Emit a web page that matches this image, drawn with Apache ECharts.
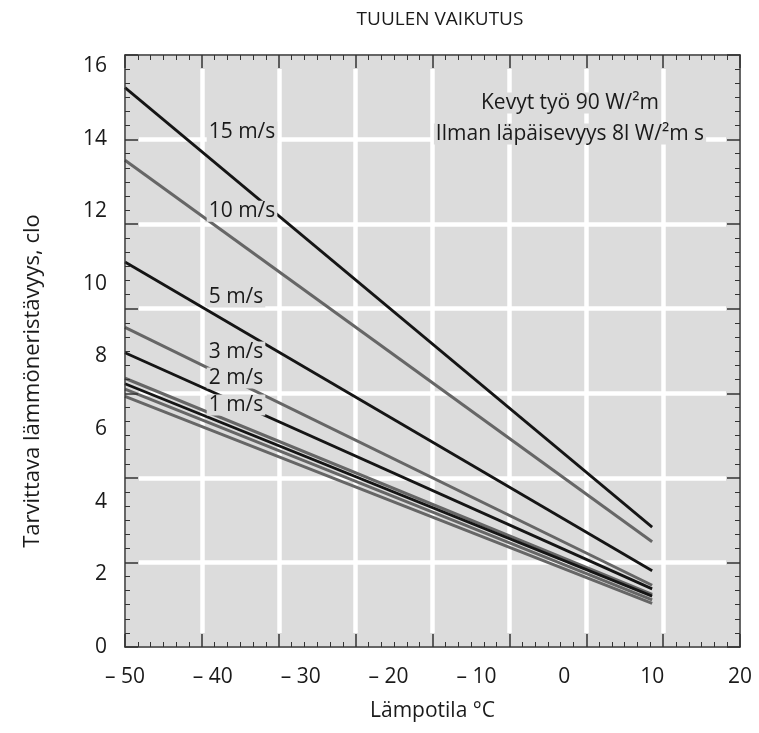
<!DOCTYPE html>
<html>
<head>
<meta charset="utf-8">
<script src="https://cdn.jsdelivr.net/npm/echarts@6/dist/echarts.min.js"></script>
<style>
html,body{margin:0;padding:0;background:#fff;}
#myChart{width:759px;height:733px;}
</style>
</head>
<body>
<div id="myChart"></div>
<script>
// luettu kuvasta: jokainen käyrä on suora -50 °C ... 10 °C
var temps = [-50, 10];
var lineNames = ['15 m/s', '10 m/s', '5 m/s', '3 m/s', '2 m/s', '1 m/s', 'käyrä 7', 'käyrä 8', 'käyrä 9'];
var cloAtStart = [15.4, 13.4, 10.6, 8.8, 8.1, 7.4, 7.25, 7.1, 6.9];
var cloAtEnd = [3.3, 2.9, 2.1, 1.7, 1.6, 1.45, 1.4, 1.3, 1.2];
var xTickLabels = [-50, -40, -30, -20, -10, 0, 10, 20];
var yTickLabels = [0, 2, 4, 6, 8, 10, 12, 14, 16];
var speedLabels = ['15 m/s', '10 m/s', '5 m/s', '3 m/s', '2 m/s', '1 m/s'];

// ulkoasu
var BG = '#dcdcdc';
var L = 125, R = 740, T = 55, B = 647, TICK = 13;
var FONT = 'Open Sans';
var ink = '#1a1a1a';
var dark = '#151515', grey = '#666';
var tones = [dark, grey, dark, grey, dark, grey, dark, grey, grey];
// nopeustekstien paikat (lämpötila, clo)
var labelX = -40.7;
var labelY = [14.18, 12.0, 9.64, 8.12, 7.41, 6.66];

var txt = {fontFamily: FONT, fontSize: 21, color: ink};

var series = lineNames.map(function (n, i) {
    return {
        name: n,
        type: 'line',
        showSymbol: false,
        silent: true,
        z: 3,
        data: temps.map(function (t, k) { return [t, k === 0 ? cloAtStart[i] : cloAtEnd[i]]; }),
        lineStyle: {color: tones[i], width: tones[i] === dark ? 2.8 : 3}
    };
});
series.push({
    type: 'scatter',
    symbolSize: 0,
    silent: true,
    z: 4,
    itemStyle: {opacity: 1},
    emphasis: {disabled: true},
    data: speedLabels.map(function (s, i) { return {name: s, value: [labelX, labelY[i]]}; }),
    label: {
        show: true, position: 'right', distance: 0,
        formatter: function (p) { return p.name; },
        fontFamily: FONT, fontSize: 21, color: ink, opacity: 1,
        backgroundColor: BG, padding: [0, 2]
    }
});

function frameTicks(pos, max) {
    return {
        type: 'value', position: pos, min: 0, max: max, interval: 1, z: 5,
        axisLabel: {show: false},
        axisLine: {show: true, onZero: false, lineStyle: {color: '#333', width: 1.5}},
        axisTick: {show: true, inside: true, length: TICK, lineStyle: {color: '#333', width: 1.5}},
        minorTick: {show: true, splitNumber: 6, length: 5, lineStyle: {color: '#333', width: 1}},
        splitLine: {show: false}
    };
}
function whiteGrid(pos, max) {
    return {
        type: 'value', position: pos, min: 0, max: max, interval: 1, z: 0,
        axisLabel: {show: false}, axisLine: {show: false}, axisTick: {show: false},
        splitLine: {show: true, lineStyle: {color: '#fff', width: 4.5}}
    };
}

var option = {
    animation: false,
    backgroundColor: '#fff',
    grid: {left: L, right: 759 - R, top: T, bottom: 733 - B, show: true, backgroundColor: BG, borderWidth: 0},
    xAxis: [
        {
            type: 'value', position: 'bottom',
            min: xTickLabels[0], max: xTickLabels[xTickLabels.length - 1], interval: 10,
            axisLine: {show: false}, axisTick: {show: false}, splitLine: {show: false},
            axisLabel: Object.assign({margin: 20, formatter: function (v) { return v < 0 ? '– ' + (-v) : '' + v; }}, txt),
            name: 'Lämpotila °C', nameLocation: 'middle', nameGap: 54, nameTextStyle: txt
        },
        whiteGrid('bottom', 8),
        frameTicks('bottom', 8),
        frameTicks('top', 8)
    ],
    yAxis: [
        {
            type: 'value', position: 'left',
            min: yTickLabels[0], max: 16.3, interval: 2,
            axisLine: {show: false}, axisTick: {show: false}, splitLine: {show: false},
            axisLabel: Object.assign({margin: 18}, txt)
        },
        whiteGrid('left', 7),
        frameTicks('left', 7),
        frameTicks('right', 7)
    ],
    graphic: [
        // valkoiset viivat eivät ulotu kehykseen asti
        {type: 'rect', z: 1, silent: true, shape: {x: L + 1, y: T + 1, width: TICK, height: B - T - 2}, style: {fill: BG}},
        {type: 'rect', z: 1, silent: true, shape: {x: R - TICK - 1, y: T + 1, width: TICK, height: B - T - 2}, style: {fill: BG}},
        {type: 'rect', z: 1, silent: true, shape: {x: L + 1, y: T + 1, width: R - L - 2, height: TICK}, style: {fill: BG}},
        {type: 'rect', z: 1, silent: true, shape: {x: L + 1, y: B - TICK - 1, width: R - L - 2, height: TICK}, style: {fill: BG}},
        {type: 'text', z: 2, silent: true, x: 440, y: 20,
            style: {text: 'TUULEN VAIKUTUS', fontFamily: FONT, fontSize: 19, fill: ink, textAlign: 'center', textVerticalAlign: 'middle'}},
        {type: 'text', z: 2, silent: true, x: 570, y: 103,
            style: {text: 'Kevyt työ 90 W/²m', fontFamily: FONT, fontSize: 21, fill: ink, textAlign: 'center', textVerticalAlign: 'middle', backgroundColor: BG, padding: [0, 2]}},
        {type: 'text', z: 2, silent: true, x: 570, y: 134,
            style: {text: 'Ilman läpäisevyys 8l W/²m s', fontFamily: FONT, fontSize: 21, fill: ink, textAlign: 'center', textVerticalAlign: 'middle', backgroundColor: BG, padding: [0, 2]}},
        {type: 'text', z: 2, silent: true, x: 33, y: 381, rotation: Math.PI / 2,
            style: {text: 'Tarvittava lämmöneristävyys, clo', fontFamily: FONT, fontSize: 22, fill: ink, textAlign: 'center', textVerticalAlign: 'middle'}}
    ],
    series: series
};

var myChart = echarts.init(document.getElementById('myChart'));
myChart.setOption(option);
</script>
</body>
</html>
